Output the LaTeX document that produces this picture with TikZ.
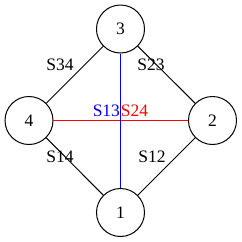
\documentclass[tikz,border=0pt]{standalone}
\usepackage{fontspec}
\setmainfont{Liberation Serif}
\usepackage{tikz}

\tikzset{
  vert/.style={draw,circle,line width=1pt,minimum size=48pt,inner sep=0pt},
  elab/.style={inner sep=0pt}
}

\begin{document}
\begin{tikzpicture}[x=1pt,y=-1pt,font=\fontsize{17.5}{20}\selectfont,line width=1pt]
\useasboundingbox (0,0) rectangle (242,242);
\node[vert] (n3) at (120.5,29) {3};
\node[vert] (n4) at (29,120.5) {4};
\node[vert] (n2) at (212.5,120.5) {2};
\node[vert] (n1) at (120.5,212.5) {1};
\draw (n3) -- (n4);
\draw (n3) -- (n2);
\draw (n4) -- (n1);
\draw (n1) -- (n2);
\draw[draw=red] (n4) -- (n2);
\draw[draw=blue] (n3) -- (n1);
\node[elab] (s34) at (60,65) {S34};
\node[elab] (s23) at (151,65) {S23};
\node[elab] (s14) at (60,157) {S14};
\node[elab] (s12) at (152,157) {S12};
\node[elab,blue,anchor=base east] (s13) at (120.5,116) {S13};
\node[elab,red,anchor=base west] (s24) at (120.5,116) {S24};
\end{tikzpicture}
\end{document}
